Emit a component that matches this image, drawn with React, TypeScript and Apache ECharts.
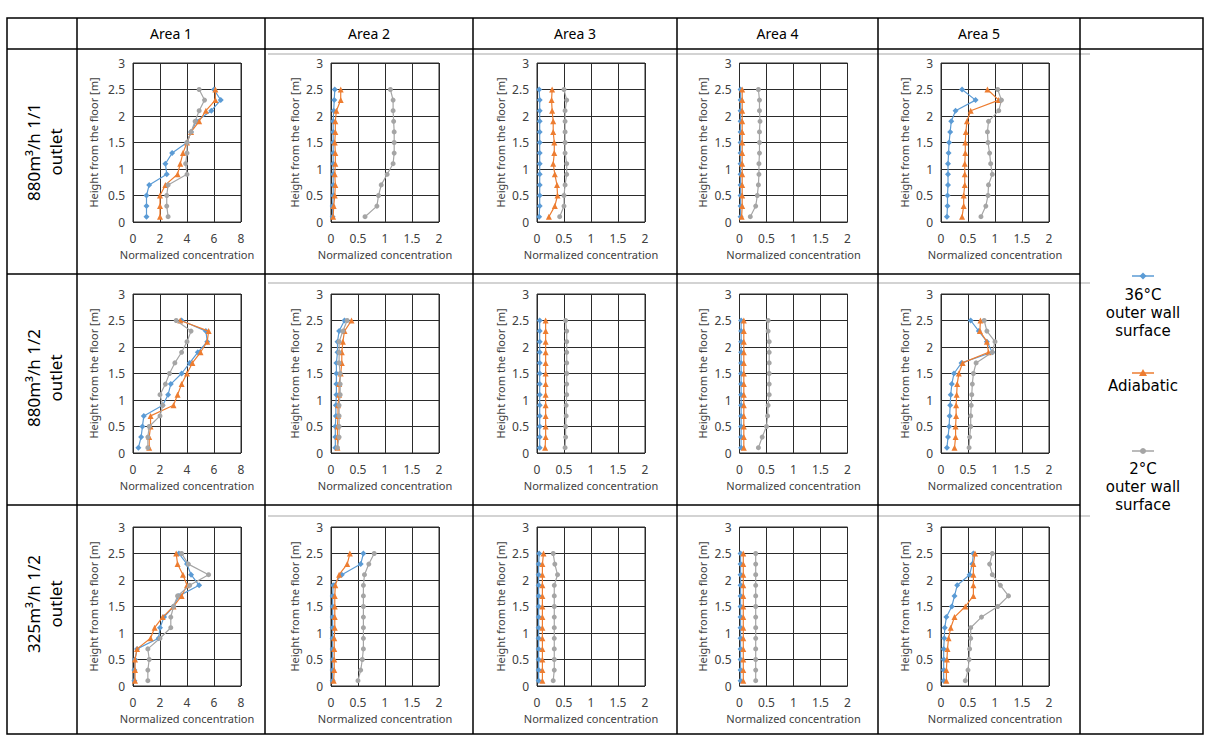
import React, { useEffect, useRef } from "react";
import * as echarts from "echarts";

// ---------- labels ----------
const AREAS = ["Area 1", "Area 2", "Area 3", "Area 4", "Area 5"];
const CONDITIONS = ["880m³/h 1/1\noutlet", "880m³/h 1/2\noutlet", "325m³/h 1/2\noutlet"];
const SERIES_NAMES = ["36°C outer wall surface", "Adiabatic", "2°C outer wall surface"];
const LEGEND_LINES = [["36°C", "outer wall", "surface"], ["Adiabatic"], ["2°C", "outer wall", "surface"]];
const X_TITLE = "Normalized concentration";
const Y_TITLE = "Height from the floor [m]";

// ---------- axes ----------
const HEIGHTS = [0.1, 0.3, 0.5, 0.7, 0.9, 1.1, 1.3, 1.5, 1.7, 1.9, 2.1, 2.3, 2.5];
const X_MAX = [8, 2, 2, 2, 2];
const X_STEP = [2, 0.5, 0.5, 0.5, 0.5];
const Y_MAX = 3;
const Y_STEP = 0.5;

// ---------- data (values at HEIGHTS, bottom to top) ----------
// Row 1: 880m3/h 1/1 outlet
const R1A1_HOT = [1.0, 1.0, 1.0, 1.2, 2.5, 2.4, 2.9, 4.0, 4.3, 4.7, 5.8, 6.5, 6.0];
const R1A1_ADI = [2.0, 2.0, 2.0, 2.4, 3.3, 3.5, 3.7, 4.0, 4.3, 4.9, 5.4, 6.1, 6.1];
const R1A1_COLD = [2.6, 2.5, 2.5, 2.6, 4.0, 3.9, 4.0, 4.0, 4.3, 4.6, 4.9, 5.3, 4.9];
const R1A2_HOT = [0.03, 0.03, 0.04, 0.04, 0.04, 0.04, 0.04, 0.04, 0.04, 0.04, 0.05, 0.06, 0.07];
const R1A2_ADI = [0.04, 0.05, 0.07, 0.08, 0.07, 0.08, 0.08, 0.07, 0.08, 0.08, 0.1, 0.18, 0.18];
const R1A2_COLD = [0.63, 0.85, 0.88, 0.93, 1.04, 1.15, 1.17, 1.17, 1.17, 1.16, 1.15, 1.15, 1.1];
const R1A3_HOT = [0.04, 0.05, 0.05, 0.05, 0.05, 0.05, 0.05, 0.05, 0.05, 0.05, 0.05, 0.05, 0.04];
const R1A3_ADI = [0.22, 0.33, 0.38, 0.37, 0.33, 0.3, 0.32, 0.32, 0.3, 0.3, 0.28, 0.27, 0.28];
const R1A3_COLD = [0.42, 0.5, 0.5, 0.52, 0.55, 0.55, 0.52, 0.52, 0.52, 0.52, 0.52, 0.55, 0.5];
const R1A4_HOT = [0.02, 0.02, 0.02, 0.02, 0.02, 0.02, 0.02, 0.02, 0.02, 0.02, 0.02, 0.02, 0.02];
const R1A4_ADI = [0.04, 0.05, 0.05, 0.05, 0.05, 0.05, 0.05, 0.05, 0.05, 0.05, 0.05, 0.05, 0.05];
const R1A4_COLD = [0.2, 0.3, 0.33, 0.35, 0.36, 0.36, 0.37, 0.37, 0.37, 0.38, 0.37, 0.37, 0.35];
const R1A5_HOT = [0.11, 0.12, 0.12, 0.13, 0.13, 0.13, 0.14, 0.15, 0.17, 0.19, 0.27, 0.64, 0.39];
const R1A5_ADI = [0.39, 0.42, 0.42, 0.44, 0.44, 0.44, 0.45, 0.45, 0.46, 0.48, 0.55, 1.07, 0.86];
const R1A5_COLD = [0.74, 0.83, 0.87, 0.88, 0.95, 0.92, 0.9, 0.87, 0.86, 0.88, 1.07, 1.12, 1.05];

// Row 2: 880m3/h 1/2 outlet
const R2A1_HOT = [0.4, 0.6, 0.7, 0.8, 2.2, 2.6, 2.8, 3.6, 4.2, 4.8, 5.5, 5.4, 3.6];
const R2A1_ADI = [1.2, 1.2, 1.3, 1.3, 3.0, 3.3, 3.6, 4.0, 4.4, 5.0, 5.5, 5.6, 3.5];
const R2A1_COLD = [1.1, 1.1, 1.2, 2.0, 2.2, 2.0, 2.4, 2.7, 3.1, 3.6, 4.0, 4.3, 3.2];
const R2A2_HOT = [0.08, 0.08, 0.08, 0.09, 0.09, 0.1, 0.1, 0.1, 0.1, 0.12, 0.12, 0.15, 0.25];
const R2A2_ADI = [0.12, 0.12, 0.12, 0.13, 0.13, 0.15, 0.15, 0.18, 0.2, 0.2, 0.22, 0.25, 0.38];
const R2A2_COLD = [0.12, 0.15, 0.15, 0.15, 0.15, 0.17, 0.17, 0.17, 0.15, 0.15, 0.15, 0.22, 0.3];
const R2A3_HOT = [0.05, 0.05, 0.05, 0.05, 0.05, 0.05, 0.05, 0.05, 0.05, 0.05, 0.05, 0.05, 0.05];
const R2A3_ADI = [0.15, 0.16, 0.16, 0.16, 0.16, 0.16, 0.16, 0.16, 0.16, 0.16, 0.16, 0.16, 0.16];
const R2A3_COLD = [0.52, 0.53, 0.53, 0.54, 0.54, 0.55, 0.55, 0.55, 0.55, 0.55, 0.55, 0.55, 0.53];
const R2A4_HOT = [0.03, 0.03, 0.03, 0.03, 0.03, 0.03, 0.03, 0.03, 0.03, 0.03, 0.03, 0.03, 0.03];
const R2A4_ADI = [0.08, 0.08, 0.08, 0.08, 0.08, 0.08, 0.08, 0.08, 0.08, 0.08, 0.08, 0.08, 0.08];
const R2A4_COLD = [0.35, 0.42, 0.5, 0.52, 0.53, 0.55, 0.55, 0.55, 0.55, 0.55, 0.55, 0.53, 0.53];
const R2A5_HOT = [0.11, 0.13, 0.15, 0.16, 0.17, 0.18, 0.2, 0.24, 0.38, 0.95, 0.85, 0.7, 0.55];
const R2A5_ADI = [0.25, 0.27, 0.27, 0.28, 0.28, 0.29, 0.3, 0.33, 0.4, 0.88, 0.85, 0.72, 0.73];
const R2A5_COLD = [0.52, 0.53, 0.55, 0.55, 0.56, 0.57, 0.58, 0.6, 0.65, 0.95, 1.0, 0.85, 0.8];

// Row 3: 325m3/h 1/2 outlet
const R3A1_HOT = [0.1, 0.1, 0.15, 0.3, 1.9, 2.0, 2.3, 3.0, 3.4, 4.9, 4.3, 4.0, 3.4];
const R3A1_ADI = [0.15, 0.15, 0.15, 0.3, 1.3, 1.6, 2.2, 3.0, 3.6, 4.0, 3.7, 3.3, 3.2];
const R3A1_COLD = [1.1, 1.1, 1.2, 1.1, 2.0, 2.8, 2.8, 3.0, 3.3, 4.2, 5.6, 4.1, 3.6];
const R3A2_HOT = [0.03, 0.03, 0.03, 0.03, 0.03, 0.03, 0.03, 0.03, 0.03, 0.04, 0.2, 0.55, 0.6];
const R3A2_ADI = [0.05, 0.06, 0.06, 0.06, 0.06, 0.07, 0.07, 0.07, 0.07, 0.08, 0.15, 0.3, 0.35];
const R3A2_COLD = [0.5, 0.55, 0.58, 0.6, 0.6, 0.6, 0.6, 0.6, 0.6, 0.6, 0.62, 0.7, 0.8];
const R3A3_HOT = [0.03, 0.03, 0.03, 0.03, 0.03, 0.03, 0.03, 0.03, 0.03, 0.03, 0.03, 0.03, 0.04];
const R3A3_ADI = [0.1, 0.1, 0.1, 0.1, 0.1, 0.1, 0.1, 0.1, 0.1, 0.1, 0.1, 0.1, 0.12];
const R3A3_COLD = [0.3, 0.32, 0.32, 0.32, 0.32, 0.32, 0.32, 0.32, 0.32, 0.32, 0.38, 0.33, 0.3];
const R3A4_HOT = [0.02, 0.02, 0.02, 0.02, 0.02, 0.02, 0.02, 0.02, 0.02, 0.02, 0.02, 0.02, 0.02];
const R3A4_ADI = [0.07, 0.07, 0.07, 0.07, 0.07, 0.07, 0.07, 0.07, 0.07, 0.07, 0.07, 0.07, 0.07];
const R3A4_COLD = [0.3, 0.3, 0.3, 0.3, 0.3, 0.3, 0.3, 0.3, 0.3, 0.3, 0.3, 0.3, 0.3];
const R3A5_HOT = [0.05, 0.05, 0.05, 0.05, 0.06, 0.07, 0.1, 0.2, 0.25, 0.3, 0.53, 0.58, 0.6];
const R3A5_ADI = [0.1, 0.1, 0.11, 0.12, 0.14, 0.18, 0.25, 0.45, 0.6, 0.6, 0.6, 0.6, 0.63];
const R3A5_COLD = [0.45, 0.5, 0.52, 0.53, 0.55, 0.55, 0.75, 1.05, 1.25, 1.1, 0.95, 0.9, 0.95];

const PANELS = [
  [
    [R1A1_HOT, R1A1_ADI, R1A1_COLD],
    [R1A2_HOT, R1A2_ADI, R1A2_COLD],
    [R1A3_HOT, R1A3_ADI, R1A3_COLD],
    [R1A4_HOT, R1A4_ADI, R1A4_COLD],
    [R1A5_HOT, R1A5_ADI, R1A5_COLD],
  ],
  [
    [R2A1_HOT, R2A1_ADI, R2A1_COLD],
    [R2A2_HOT, R2A2_ADI, R2A2_COLD],
    [R2A3_HOT, R2A3_ADI, R2A3_COLD],
    [R2A4_HOT, R2A4_ADI, R2A4_COLD],
    [R2A5_HOT, R2A5_ADI, R2A5_COLD],
  ],
  [
    [R3A1_HOT, R3A1_ADI, R3A1_COLD],
    [R3A2_HOT, R3A2_ADI, R3A2_COLD],
    [R3A3_HOT, R3A3_ADI, R3A3_COLD],
    [R3A4_HOT, R3A4_ADI, R3A4_COLD],
    [R3A5_HOT, R3A5_ADI, R3A5_COLD],
  ],
];

// ---------- styling / layout ----------
const COLORS = ["#5B9BD5", "#ED7D31", "#A5A5A5"];
const SYMBOLS = ["diamond", "triangle", "circle"];
const FONT = '"Noto Sans", "DejaVu Sans", sans-serif';
const LEGEND_FONT = '"DejaVu Sans", sans-serif';
const GRID_COLOR = "#2b2b2b";
const TEXT_COLOR = "#404040";

const COL_X = [7, 77, 265, 473, 677, 878, 1080, 1203];
const TABLE_TOP = 18;
const ROW_Y = [49, 274, 505, 734];
const PLOT_TOPS = [63, 294, 527];
const PLOT_W = 108;
const PLOT_H = 159;
const ROW_LABEL_Y = [152, 378, 604];

export default function App() {
  const ref = useRef<HTMLDivElement>(null);

  useEffect(() => {
    document.body.style.margin = "0";
    if (!ref.current) return;
    const chart = echarts.init(ref.current, undefined, { renderer: "svg" });

    const grids: any[] = [];
    const xAxes: any[] = [];
    const yAxes: any[] = [];
    const series: any[] = [];

    PANELS.forEach((row, r) => {
      row.forEach((panel, c) => {
        const i = r * 5 + c;
        const cellCenter = (COL_X[c + 1] + COL_X[c + 2]) / 2;
        const left = cellCenter + 16 - PLOT_W / 2;
        grids.push({
          left,
          top: PLOT_TOPS[r],
          width: PLOT_W,
          height: PLOT_H,
          show: true,
          borderColor: GRID_COLOR,
          borderWidth: 1,
          containLabel: false,
        });
        xAxes.push({
          gridIndex: i,
          type: "value",
          min: 0,
          max: X_MAX[c],
          interval: X_STEP[c],
          axisLine: { show: false },
          axisTick: { show: false },
          splitLine: { show: true, lineStyle: { color: GRID_COLOR, width: 1 } },
          axisLabel: { fontSize: 12, lineHeight: 13, color: TEXT_COLOR, margin: 10, fontFamily: FONT },
          name: X_TITLE,
          nameLocation: "middle",
          nameGap: 26,
          nameTextStyle: { fontSize: 11, lineHeight: 12, color: TEXT_COLOR, fontFamily: FONT },
        });
        yAxes.push({
          gridIndex: i,
          type: "value",
          min: 0,
          max: Y_MAX,
          interval: Y_STEP,
          axisLine: { show: false },
          axisTick: { show: false },
          splitLine: { show: true, lineStyle: { color: GRID_COLOR, width: 1 } },
          axisLabel: { fontSize: 12, color: TEXT_COLOR, margin: 8, fontFamily: FONT },
          name: Y_TITLE,
          nameLocation: "middle",
          nameGap: c === 0 ? 34 : 31,
          nameRotate: 90,
          nameTextStyle: { fontSize: 11, lineHeight: 12, color: TEXT_COLOR, fontFamily: FONT },
        });
        panel.forEach((vals, s) => {
          series.push({
            name: SERIES_NAMES[s],
            type: "line",
            xAxisIndex: i,
            yAxisIndex: i,
            data: vals.map((v, k) => [v, HEIGHTS[k]]),
            symbol: SYMBOLS[s],
            symbolSize: s === 2 ? 5 : 6,
            showSymbol: true,
            lineStyle: { color: COLORS[s], width: 1.2 },
            itemStyle: { color: COLORS[s] },
            z: 3 + s,
          });
        });
      });
    });

    const graphics: any[] = [];
    // table outer frame
    graphics.push({
      type: "rect",
      shape: { x: COL_X[0], y: TABLE_TOP, width: COL_X[7] - COL_X[0], height: ROW_Y[3] - TABLE_TOP },
      style: { fill: "none", stroke: "#000", lineWidth: 1.5 },
      z: 10,
    });
    // vertical lines
    for (let k = 1; k < COL_X.length - 1; k++) {
      graphics.push({
        type: "line",
        shape: { x1: COL_X[k], y1: TABLE_TOP, x2: COL_X[k], y2: ROW_Y[3] },
        style: { stroke: "#000", lineWidth: 1.5 },
        z: 10,
      });
    }
    // header bottom line (full width)
    graphics.push({
      type: "line",
      shape: { x1: COL_X[0], y1: ROW_Y[0], x2: COL_X[7], y2: ROW_Y[0] },
      style: { stroke: "#000", lineWidth: 1.5 },
      z: 10,
    });
    // row separators (not through legend column)
    [ROW_Y[1], ROW_Y[2]].forEach((y) => {
      graphics.push({
        type: "line",
        shape: { x1: COL_X[0], y1: y, x2: COL_X[6], y2: y },
        style: { stroke: "#000", lineWidth: 1.5 },
        z: 10,
      });
    });
    // faint chart-area borders
    [ROW_Y[0] + 5, ROW_Y[1] + 9, ROW_Y[2] + 11].forEach((y) => {
      graphics.push({
        type: "line",
        shape: { x1: COL_X[2] + 3, y1: y, x2: COL_X[6] + 10, y2: y },
        style: { stroke: "#c4c4c4", lineWidth: 1.5 },
        z: 1,
      });
    });
    // header texts
    AREAS.forEach((a, c) => {
      graphics.push({
        type: "text",
        x: (COL_X[c + 1] + COL_X[c + 2]) / 2,
        y: (TABLE_TOP + ROW_Y[0]) / 2,
        style: {
          text: a,
          fill: "#000",
          font: `14px ${FONT}`,
          align: "center",
          verticalAlign: "middle",
        },
        z: 11,
      });
    });
    // row labels
    CONDITIONS.forEach((t, r) => {
      graphics.push({
        type: "text",
        x: (COL_X[0] + COL_X[1]) / 2 + 2,
        y: ROW_LABEL_Y[r],
        rotation: Math.PI / 2,
        style: {
          text: t,
          fill: "#000",
          font: `17px ${FONT}`,
          align: "center",
          verticalAlign: "middle",
          lineHeight: 22,
        },
        z: 11,
      });
    });
    // legend
    const LX = 1143;
    const legendMarkerY = [276, 373, 451];
    const legendTextY = [295, 386, 469];
    const LINE_STEP = 17.8;
    LEGEND_LINES.forEach((lines, s) => {
      const y = legendMarkerY[s];
      graphics.push({
        type: "line",
        shape: { x1: LX - 11, y1: y, x2: LX + 11, y2: y },
        style: { stroke: COLORS[s], lineWidth: 1.5 },
        z: 11,
      });
      if (s === 0) {
        graphics.push({
          type: "polygon",
          shape: { points: [[LX, y - 3.5], [LX + 3.5, y], [LX, y + 3.5], [LX - 3.5, y]] },
          style: { fill: COLORS[s] },
          z: 12,
        });
      } else if (s === 1) {
        graphics.push({
          type: "polygon",
          shape: { points: [[LX, y - 4], [LX + 4, y + 3], [LX - 4, y + 3]] },
          style: { fill: COLORS[s] },
          z: 12,
        });
      } else {
        graphics.push({
          type: "circle",
          shape: { cx: LX, cy: y, r: 3 },
          style: { fill: COLORS[s] },
          z: 12,
        });
      }
      lines.forEach((line, j) => {
        graphics.push({
          type: "text",
          x: LX,
          y: legendTextY[s] + j * LINE_STEP,
          style: {
            text: line,
            fill: "#000",
            font: `15px ${LEGEND_FONT}`,
            align: "center",
            verticalAlign: "middle",
            lineHeight: 15,
          },
          z: 11,
        });
      });
    });

    chart.setOption({
      animation: false,
      backgroundColor: "#fff",
      grid: grids,
      xAxis: xAxes,
      yAxis: yAxes,
      series,
      graphic: graphics,
    });

    return () => chart.dispose();
  }, []);

  return <div ref={ref} style={{ width: 1205, height: 736 }} />;
}
